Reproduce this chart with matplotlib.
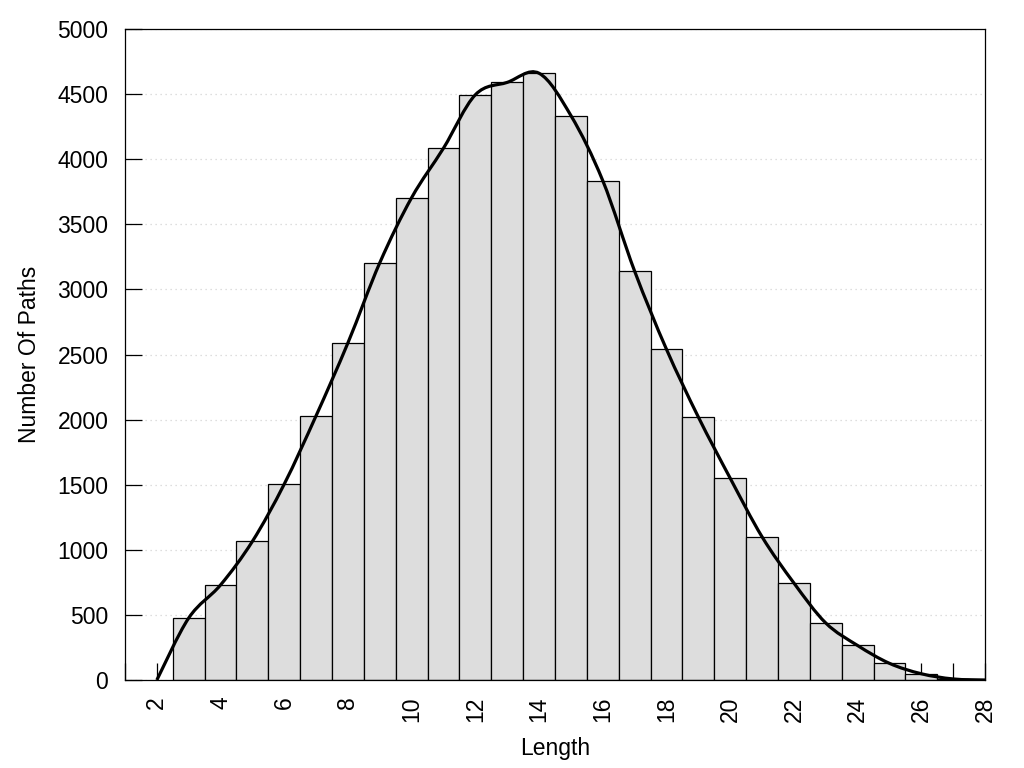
import numpy as np
import matplotlib
matplotlib.use("Agg")
import matplotlib.pyplot as plt
from matplotlib.path import Path
from matplotlib.patches import PathPatch

plt.rcParams['font.family'] = ['Liberation Sans', 'DejaVu Sans']

# histogram of path lengths
lengths = list(range(3, 28))
counts = [476, 730, 1065, 1505, 2030, 2590, 3205, 3705, 4085, 4495,
          4590, 4660, 4335, 3835, 3140, 2540, 2020, 1550, 1100, 745,
          438, 265, 128, 48, 8]

# smoothed curve through the bar tops (anchored to zero at both ends)
curve_x = [2] + lengths + [28]
curve_y = [0] + counts + [0]


def smooth_path(xs, ys):
    """Catmull-Rom curve through the points, as cubic bezier segments."""
    pts = np.column_stack([xs, ys]).astype(float)
    ext = np.vstack([pts[0], pts, pts[-1]])
    verts = [pts[0]]
    codes = [Path.MOVETO]
    for i in range(1, len(ext) - 2):
        p0, p1, p2, p3 = ext[i - 1], ext[i], ext[i + 1], ext[i + 2]
        verts += [p1 + (p2 - p0) / 6, p2 - (p3 - p1) / 6, p2]
        codes += [Path.CURVE4] * 3
    return Path(verts, codes)


fig = plt.figure(figsize=(10.24, 7.68), dpi=100)
ax = fig.add_axes([125 / 1024, 88 / 768, 860 / 1024, 651 / 768])

ax.bar(lengths, counts, width=1.0, color='#dddddd', edgecolor='black',
       linewidth=0.9, zorder=1)
ax.add_patch(PathPatch(smooth_path(curve_x, curve_y), fill=False,
                       edgecolor='black', linewidth=2.3, zorder=3))

ax.set_xlim(1, 28)
ax.set_ylim(0, 5000)
ax.set_xticks(range(1, 29))
ax.set_xticklabels([str(v) if v % 2 == 0 else '' for v in range(1, 29)],
                   rotation=90)
ax.set_yticks(range(0, 5001, 500))

ax.tick_params(direction='in', length=12, width=0.9, labelsize=16.5, pad=12)
ax.set_axisbelow(True)
ax.grid(axis='y', color='#d4d4d4', linestyle=(0, (1, 3)), linewidth=0.9)

for sp in ax.spines.values():
    sp.set_linewidth(0.9)

ax.set_xlabel("Length", fontsize=16.5, labelpad=11)
ax.set_ylabel("Number Of Paths", fontsize=16.5, labelpad=12)

fig.savefig("out.png", dpi=100)
